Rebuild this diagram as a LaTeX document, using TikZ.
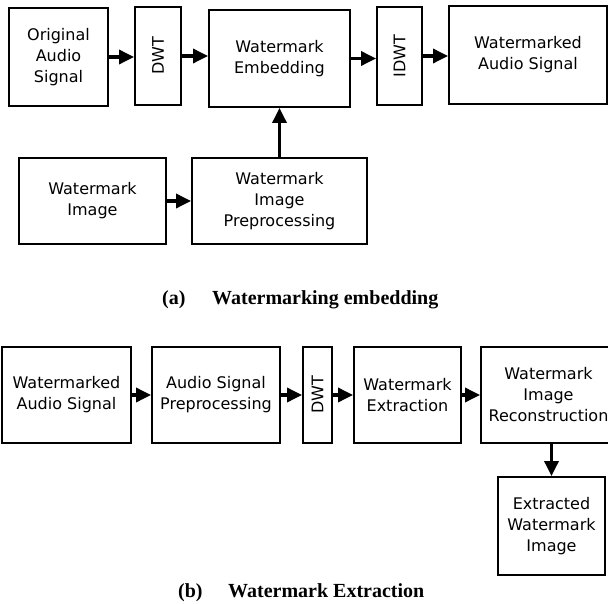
\documentclass[tikz,border=0pt]{standalone}
\usepackage{fontspec}
\usepackage{graphicx}
\setmainfont{Liberation Serif}
\newfontfamily\wmsans{DejaVu Sans}
\usetikzlibrary{arrows.meta,calc}
\newcommand{\WMType}{\wmsans\fontsize{16}{21}\selectfont}
\newcommand{\WMCap}{\rmfamily\bfseries\fontsize{20}{23}\selectfont}
\tikzset{wm/base/.style={x=1pt,y=1pt,line cap=butt,line join=miter,
  every node/.style={font=\WMType,inner sep=0pt,text=black}},
  wm/arrow/.style={-{Triangle[length=15pt,width=14pt]},draw=black,line width=3.3pt},
  wm/box/.style={draw=black,fill=white,line width=1.9pt,align=center}}

\begin{document}
\begin{tikzpicture}[wm/base,y=-1pt]
  \useasboundingbox (0,0) rectangle (608,604);
  % (a) embedding
  \node[wm/box,minimum width=99pt,minimum height=98pt] (orig) at (58.5,57) {Original\\Audio\\Signal};
  \node[wm/box,minimum width=46pt,minimum height=98pt] (dwtA) at (158,56) {\rotatebox{90}{DWT}};
  \node[wm/box,minimum width=141pt,minimum height=97pt] (embed) at (279.5,58.5) {Watermark\\Embedding};
  \node[wm/box,minimum width=45pt,minimum height=98pt] (idwt) at (399.5,56) {\rotatebox{90}{IDWT}};
  \node[wm/box,minimum width=158pt,minimum height=98pt] (marked) at (528,55) {Watermarked\\Audio Signal};
  \node[wm/box,minimum width=147pt,minimum height=86pt] (wmimg) at (92.5,201) {Watermark\\Image};
  \node[wm/box,minimum width=175pt,minimum height=86pt] (prep) at (279.5,201) {Watermark\\Image\\Preprocessing};
  \draw[wm/arrow] (orig.east) -- (orig.east -| dwtA.west);
  \draw[wm/arrow] (dwtA.east) -- (dwtA.east -| embed.west);
  \draw[wm/arrow] (embed.east) -- (embed.east -| idwt.west);
  \draw[wm/arrow] (idwt.east) -- (idwt.east -| marked.west);
  \draw[wm/arrow] (wmimg.east) -- (wmimg.east -| prep.west);
  \draw[wm/arrow] (prep.north) -- (prep.north |- embed.south);
  \node[anchor=base west,font=\WMCap] (capA) at (162,305) {\makebox[50pt][l]{(a)}Watermarking embedding};
  % (b) extraction
  \node[wm/box,minimum width=129pt,minimum height=96pt] (wmaudio) at (66.5,395) {Watermarked\\Audio Signal};
  \node[wm/box,minimum width=128pt,minimum height=96pt] (asprep) at (216,395) {Audio Signal\\Preprocessing};
  \node[wm/box,minimum width=29pt,minimum height=96pt] (dwtB) at (317.5,395) {\rotatebox{90}{DWT}};
  \node[wm/box,minimum width=107pt,minimum height=96pt] (extract) at (407.5,395) {Watermark\\Extraction};
  \node[wm/box,minimum width=135pt,minimum height=96pt] (recon) at (548.5,395) {Watermark\\Image\\Reconstruction};
  \node[wm/box,minimum width=107pt,minimum height=98pt] (extracted) at (551.5,526) {Extracted\\Watermark\\Image};
  \draw[wm/arrow] (wmaudio.east) -- (wmaudio.east -| asprep.west);
  \draw[wm/arrow] (asprep.east) -- (asprep.east -| dwtB.west);
  \draw[wm/arrow] (dwtB.east) -- (dwtB.east -| extract.west);
  \draw[wm/arrow] (extract.east) -- (extract.east -| recon.west);
  \draw[wm/arrow] (recon.south -| extracted.north) -- (extracted.north);
  \node[anchor=base west,font=\WMCap] (capB) at (178,597) {\makebox[50pt][l]{(b)}Watermark Extraction};
\end{tikzpicture}
\end{document}
